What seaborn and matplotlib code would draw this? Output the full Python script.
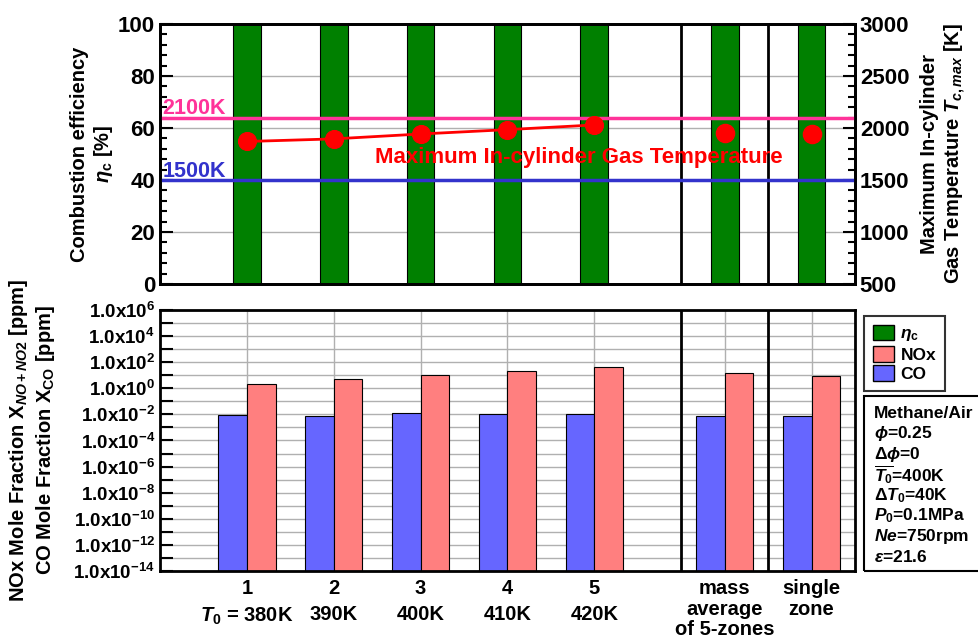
import numpy as np
import pandas as pd
import seaborn as sns
import matplotlib.pyplot as plt
from matplotlib.patches import Patch, Rectangle
from matplotlib.ticker import FixedLocator, MultipleLocator, FuncFormatter, NullLocator

plt.rcParams['font.family'] = ['Liberation Sans', 'DejaVu Sans']
plt.rcParams['font.weight'] = 'bold'
plt.rcParams['axes.labelweight'] = 'bold'
plt.rcParams['mathtext.fontset'] = 'custom'
plt.rcParams['mathtext.rm'] = 'Liberation Sans:bold'
plt.rcParams['mathtext.it'] = 'Liberation Sans:italic:bold'
plt.rcParams['mathtext.bf'] = 'Liberation Sans:bold'

# data
cases = ['1', '2', '3', '4', '5', 'mass avg', 'single']
eta_c = [99.9, 99.9, 99.9, 99.9, 99.9, 99.9, 99.9]
t_max = [1870, 1895, 1942, 1984, 2029, 1949, 1942]
co_ppm = [0.0083, 0.0074, 0.012, 0.011, 0.011, 0.0074, 0.0078]
nox_ppm = [2.3, 5.2, 11, 21, 40, 15, 8.4]
tick_labels = ['1\n$T_0$ = 380K', '2\n390K', '3\n400K', '4\n410K', '5\n420K',
               'mass\naverage\nof 5-zones', 'single\nzone']
info_lines = ['Methane/Air', '$\\phi$=0.25', '$\\Delta\\phi$=0', '$\\overline{T_0}$=400K',
              '$\\Delta T_0$=40K', '$P_0$=0.1MPa', '$Ne$=750rpm', '$\\varepsilon$=21.6']

# x slots: gap between case 5 and the averaged cases
slots = [0, 1, 2, 3, 4, 5.5, 6.5]
GREEN, PINK, BLUE = '#008000', '#ff7f7f', '#6666ff'

fig = plt.figure(figsize=(9.79, 6.39), dpi=100)
ax1 = fig.add_axes([0.1634, 0.5556, 0.7099, 0.4069])
ax3 = fig.add_axes([0.1634, 0.1064, 0.7099, 0.4085])

# ---- top panel: combustion efficiency + max temperature
top = pd.DataFrame({'slot': slots, 'eta': eta_c, 'case': cases})
ax1.set_axisbelow(True)
ax1.yaxis.grid(True, color='#b0b0b0', lw=1)
sns.barplot(data=top, x='slot', y='eta', native_scale=True, width=0.32, color=GREEN,
            saturation=1, edgecolor='black', linewidth=0.8, errorbar=None, ax=ax1)
for xv in [5, 6]:
    ax1.axvline(xv, color='black', lw=2)
ax1.set_xlim(-1, 7)
ax1.set_ylim(0, 100)
ax1.yaxis.set_major_locator(MultipleLocator(20))
ax1.yaxis.set_minor_locator(MultipleLocator(4))
ax1.tick_params(axis='y', which='major', direction='in', length=9, width=1.5, labelsize=16)
ax1.tick_params(axis='y', which='minor', direction='in', length=5, width=1.5)
ax1.tick_params(axis='x', bottom=False, labelbottom=False)
ax1.set_xlabel('')
ax1.set_ylabel('Combustion efficiency\n$\\eta_{\\rm c}$ [%]', fontsize=14.5, labelpad=2)

ax2 = ax1.twinx()
ax2.axhline(2100, color='#ff3399', lw=2.5)
ax2.axhline(1500, color='#3333cc', lw=2.5)
ax2.text(-0.97, 2085, '2100K', color='#ff3399', fontsize=15.5, va='bottom', ha='left')
ax2.text(-0.97, 1485, '1500K', color='#3333cc', fontsize=15.5, va='bottom', ha='left')
line_df = pd.DataFrame({'slot': slots[:5], 'T': t_max[:5]})
sns.lineplot(data=line_df, x='slot', y='T', color='red', lw=2, marker='o', markersize=13,
             markeredgecolor='red', ax=ax2)
sns.scatterplot(x=slots[5:], y=t_max[5:], color='red', s=170, edgecolor='red', ax=ax2)
ax2.text(3.82, 1712, 'Maximum In-cylinder Gas Temperature', color='red', fontsize=16,
         ha='center', va='center')
ax2.set_xlim(-1, 7)
ax2.set_ylim(500, 3000)
ax2.yaxis.set_major_locator(MultipleLocator(500))
ax2.yaxis.set_minor_locator(MultipleLocator(100))
ax2.tick_params(axis='y', which='major', direction='in', length=9, width=1.5, labelsize=16)
ax2.tick_params(axis='y', which='minor', direction='in', length=5, width=1.5)
ax2.tick_params(axis='x', bottom=False, labelbottom=False)
ax2.set_xlabel('')
ax2.set_ylabel('Maximum In-cylinder\nGas Temperature $T_{c,max}$ [K]', fontsize=14.5, labelpad=8)
for ax in [ax1, ax2]:
    for sp in ax.spines.values():
        sp.set_linewidth(2)

# ---- bottom panel: NOx and CO mole fractions
long = pd.DataFrame({'slot': slots * 2, 'ppm': co_ppm + nox_ppm,
                     'species': ['CO'] * 7 + ['NOx'] * 7})
ax3.set_yscale('log')
ax3.set_axisbelow(True)
sns.barplot(data=long, x='slot', y='ppm', hue='species', hue_order=['CO', 'NOx'],
            palette=[BLUE, PINK], native_scale=True, width=0.66, saturation=1,
            edgecolor='black', linewidth=0.8, errorbar=None, legend=False, ax=ax3)
for xv in [5, 6]:
    ax3.axvline(xv, color='black', lw=2)
ax3.set_xlim(-1, 7)
ax3.set_ylim(1e-14, 1e6)
ax3.yaxis.set_major_locator(FixedLocator([10.0 ** k for k in range(-14, 7)]))
ax3.yaxis.set_minor_locator(NullLocator())


def log_label(v, pos):
    k = int(round(np.log10(v)))
    return f'1.0x10$^{{{k}}}$' if k % 2 == 0 else ''


ax3.yaxis.set_major_formatter(FuncFormatter(log_label))
ax3.grid(True, color='#b0b0b0', lw=1)
ax3.tick_params(axis='y', direction='in', length=9, width=1.5, labelsize=13.5)
ax3.set_xticks(slots)
ax3.set_xticklabels(tick_labels, fontsize=14.5)
for lab in ax3.get_xticklabels():
    lab.set_linespacing(1.1 if lab.get_text().count('\n') == 2 or 'single' in lab.get_text() else 1.45)
ax3.tick_params(axis='x', length=0, pad=6)
ax3.set_xlabel('')
ax3.set_ylabel('NOx Mole Fraction X$_{NO+NO2}$ [ppm]\nCO Mole Fraction X$_{\\rm CO}$ [ppm]',
               fontsize=14.5, labelpad=12)
for sp in ax3.spines.values():
    sp.set_linewidth(2)

# ---- legend and condition box
handles = [Patch(fc=GREEN, ec='black', label='$\\eta_{\\rm c}$'),
           Patch(fc=PINK, ec='black', label='NOx'),
           Patch(fc=BLUE, ec='black', label='CO')]
leg = fig.legend(handles=handles, loc='upper left', bbox_to_anchor=(864 / 979, 1 - 316 / 639),
                 frameon=True, fancybox=False, edgecolor='black', fontsize=12.5,
                 handlelength=1.2, handleheight=1.0, borderpad=0.5, labelspacing=0.15,
                 handletextpad=0.4, borderaxespad=0)
leg.get_frame().set_linewidth(1.5)

fig.add_artist(Rectangle((864 / 979, 1 - 571 / 639), 0.2, 175 / 639, transform=fig.transFigure,
                         fill=False, ec='black', lw=1.5))
for i, line in enumerate(info_lines):
    fig.text(874 / 979, 1 - (413 + i * 20.6) / 639, line, fontsize=12.5, va='center', ha='left')

fig.savefig('out.png', dpi=100)
